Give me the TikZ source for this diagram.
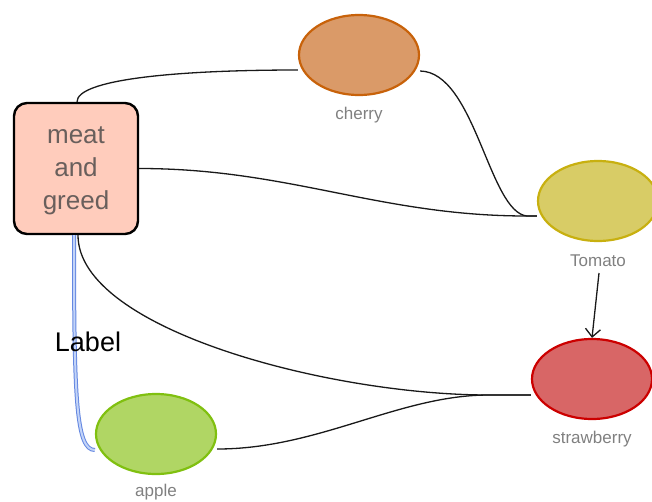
\documentclass[tikz,border=0pt]{standalone}
\usepackage{fontspec}
\setmainfont{Liberation Sans}
\usetikzlibrary{arrows.meta,shapes.geometric}

\definecolor{boxfill}{RGB}{255,204,188}
\definecolor{boxtext}{RGB}{105,95,92}
\definecolor{lbltext}{RGB}{128,128,128}
\definecolor{cherryfill}{RGB}{218,154,104}
\definecolor{cherryline}{RGB}{200,98,10}
\definecolor{tomatofill}{RGB}{216,204,102}
\definecolor{tomatoline}{RGB}{200,176,16}
\definecolor{strawfill}{RGB}{216,102,102}
\definecolor{strawline}{RGB}{204,0,0}
\definecolor{applefill}{RGB}{176,214,100}
\definecolor{appleline}{RGB}{128,192,16}
\definecolor{linkouter}{RGB}{100,135,225}
\definecolor{linkinner}{RGB}{195,212,248}

\tikzset{
  topic/.style={draw=black, line width=2.4pt, fill=boxfill, rounded corners=13pt,
    minimum width=124pt, minimum height=131pt, inner sep=0pt},
  topictext/.style={text=boxtext, font=\fontsize{26}{33}\selectfont, align=center, inner sep=0pt},
  fruit/.style={ellipse, line width=2.2pt, minimum width=120pt, minimum height=80pt, inner sep=0pt},
  fruitname/.style={text=lbltext, font=\fontsize{17}{19}\selectfont, inner sep=0pt},
  edge/.style={draw=black!90, line width=1.3pt},
  bluelink/.style={draw=linkouter, double=linkinner, line width=1pt, double distance=2pt}
}

\begin{document}
\begin{tikzpicture}[x=1pt,y=-1pt]
\useasboundingbox (0,0) rectangle (652,501);

% shapes
\node[topic] (meat) at (76,168.5) {};
\node[topictext] (meattext) at (76,171) {meat\\and\\greed};
\node[fruit, fill=cherryfill, draw=cherryline] (cherry) at (359,55) {};
\node[fruit, fill=tomatofill, draw=tomatoline] (tomato) at (598,201) {};
\node[fruit, fill=strawfill, draw=strawline] (straw) at (592,379) {};
\node[fruit, fill=applefill, draw=appleline] (apple) at (156,434) {};

% names under the fruits
\node[fruitname] (cherrylbl) at (359,115) {cherry};
\node[fruitname] (tomatolbl) at (598,261) {Tomato};
\node[fruitname] (strawlbl) at (592,439) {strawberry};
\node[fruitname] (applelbl) at (156,492) {apple};

% connector end points
\coordinate (cin) at ([yshift=-15pt]cherry.west);
\coordinate (cout) at ([yshift=-16pt]cherry.east);
\coordinate (tin) at ([yshift=-15pt]tomato.west);
\coordinate (tjoin) at ([xshift=-10pt]tin);
\coordinate (sin) at ([yshift=-16pt]straw.west);
\coordinate (sjoin) at ([xshift=-42pt]sin);
\coordinate (aout) at ([yshift=-15pt]apple.east);
\coordinate (ain) at ([yshift=-16pt]apple.west);
\coordinate (arrowtail) at (599,273);

% connectors
\draw[edge] ([xshift=1pt]meat.north) .. controls +(0,-22) and +(-125,0) .. (cin);
\draw[edge] (cout) .. controls +(55,1) and +(-38,-4) .. (tjoin) -- (tin);
\draw[edge] (meat.east) .. controls +(150,0) and +(-148,0) .. (tjoin) -- (tin);
\draw[edge] ([xshift=2pt]meat.south) .. controls +(0,94) and +(-160,0) .. (sjoin) -- (sin);
\draw[edge] (aout) .. controls +(102,0) and +(-90,0) .. (sjoin) -- (sin);
\draw[edge, -{Straight Barb[length=8pt,width=15pt,line width=1.3pt]}] (arrowtail) -- (straw.north);

% labelled double link
\draw[bluelink] ([xshift=-2pt]meat.south) .. controls +(0,164) and +(-19,0) .. (ain);
\node[text=black, font=\fontsize{27}{30}\selectfont, inner sep=0pt] (linklbl) at (88,342) {Label};
\end{tikzpicture}
\end{document}
